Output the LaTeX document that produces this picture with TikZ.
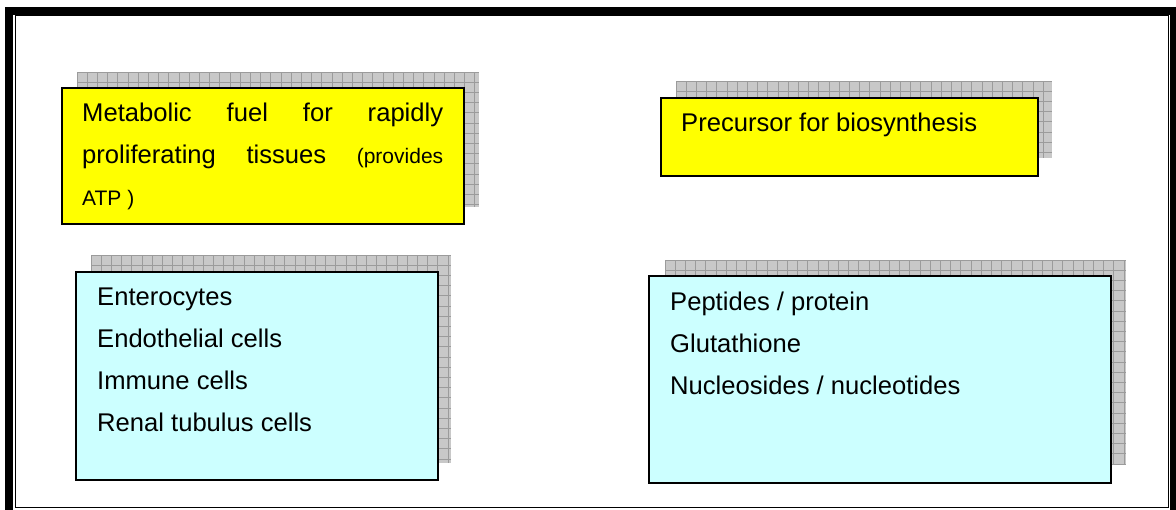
\documentclass[tikz,border=0pt]{standalone}
\usepackage{fontspec}
\setmainfont{Liberation Sans}

\definecolor{panelyellow}{RGB}{255,255,0}
\definecolor{panelcyan}{RGB}{204,255,255}
\definecolor{shadefill}{RGB}{200,200,200}
\definecolor{shadegrid}{RGB}{155,155,155}

\tikzset{
  panel/.style={draw=black, line width=1.6pt, inner sep=0pt, anchor=north west},
  fuelpanel/.style={panel, fill=panelyellow},
  listpanel/.style={panel, fill=panelcyan},
  line/.style={anchor=base west, inner sep=0pt, font=\fontsize{25.6}{30}\selectfont},
  smallline/.style={anchor=base west, inner sep=0pt, font=\fontsize{21}{25}\selectfont},
}

% grey chequered drop shadow: left, top, right, bottom (pixels, y downwards)
\newcommand\gridshadow[4]{%
  \fill[shadefill] (#1,-#2) rectangle (#3,-#4);
  \begin{scope}
    \clip (#1,-#2) rectangle (#3,-#4);
    \draw[shadegrid, line width=0.8pt, shift={(#1,-#2)}, step=10.2]
      ({0},{-(#4-#2)}) grid ({#3-#1},{0});
  \end{scope}}

\begin{document}
\begin{tikzpicture}[x=1pt, y=1pt]
  \useasboundingbox (0,0) rectangle (1176,-510);
  \fill[white] (0,0) rectangle (1176,-510);

  % double frame
  \draw[line width=8pt] (9,-11) rectangle (1174,-515);
  \draw[line width=1.2pt] (15.6,-15.6) rectangle (1168.4,-507.6);

  % shadows
  \gridshadow{77}{72}{479}{207}
  \gridshadow{676}{81}{1052}{158}
  \gridshadow{91}{255}{451}{463}
  \gridshadow{665}{260}{1126}{465}

  % panels
  \node[fuelpanel, minimum width=402pt, minimum height=136pt] (fuel) at (61,-87) {};
  \node[fuelpanel, minimum width=377pt, minimum height=78pt] (precursor) at (660,-97) {};
  \node[listpanel, minimum width=362pt, minimum height=208pt] (cells) at (75,-271) {};
  \node[listpanel, minimum width=462pt, minimum height=207pt] (products) at (648,-275) {};

  % texts of the yellow panels
  \node[line] (fuelA) at (82,-122) {\makebox[361pt][s]{Metabolic fuel for rapidly}};
  \node[line] (fuelB) at (82,-164) {\makebox[361pt][s]{proliferating tissues {\fontsize{21}{25}\selectfont(provides}}};
  \node[smallline] (fuelC) at (82,-206) {ATP )};
  \node[line] (precA) at (681,-132) {Precursor for biosynthesis};

  % texts of the cyan panels
  \node[line] (cellA) at (97,-306) {Enterocytes};
  \node[line] (cellB) at (97,-348) {Endothelial cells};
  \node[line] (cellC) at (97,-390) {Immune cells};
  \node[line] (cellD) at (97,-432) {Renal tubulus cells};

  \node[line] (prodA) at (670,-311) {Peptides / protein};
  \node[line] (prodB) at (670,-353) {Glutathione};
  \node[line] (prodC) at (670,-395) {Nucleosides / nucleotides};
\end{tikzpicture}
\end{document}
